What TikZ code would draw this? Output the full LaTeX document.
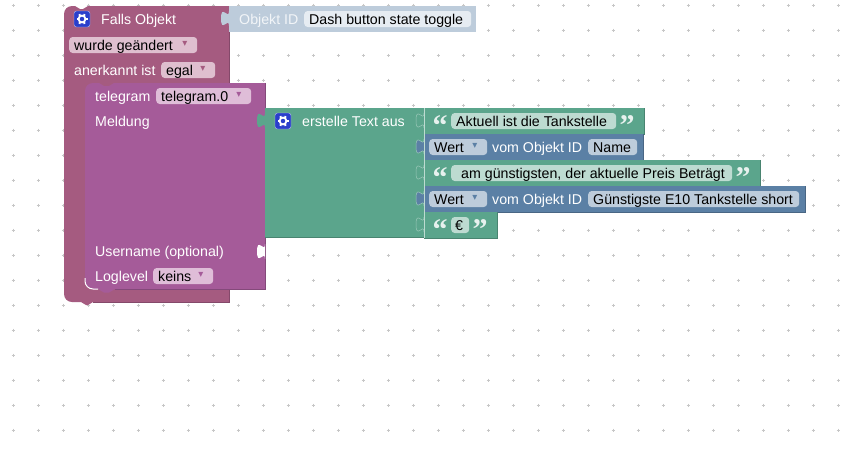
\documentclass[tikz,border=0pt]{standalone}
\usepackage{fontspec}
\setmainfont{Liberation Sans}
\newfontfamily\quotefont{Liberation Serif}
\newfontfamily\arrowfont{DejaVu Sans}
\definecolor{hatblk}{HTML}{A55B80}
\definecolor{hatdark}{HTML}{84496A}
\definecolor{hatfield}{HTML}{DFBFCF}
\definecolor{tgblk}{HTML}{A55B99}
\definecolor{tgdark}{HTML}{84497A}
\definecolor{tgfield}{HTML}{DFBDD8}
\definecolor{txtblk}{HTML}{5BA58C}
\definecolor{txtdark}{HTML}{498470}
\definecolor{txtlit}{HTML}{9CC9BA}
\definecolor{txtfield}{HTML}{BDDBD1}
\definecolor{valblk}{HTML}{5B80A5}
\definecolor{valdark}{HTML}{496684}
\definecolor{valfield}{HTML}{BDCCDB}
\definecolor{shadowfield}{HTML}{E6ECF2}
\definecolor{gearblue}{HTML}{2A3FCB}
\tikzset{
  lbl/.style={inner sep=0pt, anchor=west, text=white, text height=10pt, text depth=0pt, font=\fontsize{14.2}{16}\selectfont},
  fieldbox/.style={rounded corners=3.5pt, minimum height=16pt, inner sep=0pt, anchor=west},
  fieldtxt/.style={inner sep=0pt, anchor=west, text=black, text height=10pt, text depth=0pt, font=\fontsize{14.2}{16}\selectfont},
  ddarrow/.style={inner sep=0pt, font=\arrowfont\fontsize{10}{10}\selectfont},
  quotemark/.style={inner sep=0pt, text=white!85!txtblk, font=\quotefont\bfseries\fontsize{30}{30}\selectfont},
  tabplug/.pic={
    \path[pic actions] (0,0) .. controls (0,10) and (-8,-8) .. (-8,7.5)
      .. controls (-8,23) and (0,5) .. (0,15);
  },
  gearicon/.pic={
    \fill[gearblue, draw=white!70!gearblue, rounded corners=2.5pt] (-8,-8) rectangle (8,8);
    \foreach \a in {0,60,...,300} {
      \draw[white, line width=2pt] (\a:3.5) -- (\a:5.5);
    }
    \draw[white, line width=1.8pt] (0,0) circle (3.4);
  },
}
\begin{document}
\begin{tikzpicture}[x=1pt,y=-1pt]
\useasboundingbox (0,0) rectangle (851,450);
\fill[white] (0,0) rectangle (851,450);
% grid of the workspace
\foreach \x in {13,38,...,838} {
  \foreach \y in {5,30,...,430} {
    \draw[black!22, line width=.6pt] (\x-1.5,\y) -- (\x+1.5,\y) (\x,\y-1.5) -- (\x,\y+1.5);
  }
}
% hat block
\fill[hatblk] (64,14) arc[start angle=180, end angle=270, radius=8]
  -- (75,6) -- (80,9) -- (83,9) -- (88,6) -- (229,6) -- (229,83) -- (120,83) -- (120,92) -- (85,92) -- (85,281)
  arc[start angle=180, end angle=90, radius=8] -- (229,289) -- (229,302)
  -- (93,302) -- (88,305) -- (86,305) -- (81,302) -- (72,302)
  arc[start angle=90, end angle=180, radius=8] -- cycle;
\draw[hatdark, line width=.8pt] (229,6) -- (229,83) (229,289) -- (229,302) -- (93,302);
% telegram block
\fill[tgblk] (85,91) arc[start angle=180, end angle=270, radius=8]
  -- (99,83) -- (104,86) -- (109,86) -- (114,83) -- (265,83) -- (265,289) -- (115,289)
  -- (109,292.5) -- (104,292.5) -- (98,289) -- (93,289)
  arc[start angle=90, end angle=180, radius=8] -- cycle;
\draw[tgdark, line width=.8pt] (265,83) -- (265,289) -- (115,289);
\draw[white, line width=1pt] (85,278) -- (85,281) arc[start angle=180, end angle=90, radius=8] -- (98,289);
\pic[fill=white] at (265,244) {tabplug};
% text block with its values
\fill[txtblk] (265,108) rectangle (424,237);
\draw[txtdark, line width=.8pt] (265,237.5) -- (424,237.5);
\pic[fill=txtblk] at (265,113) {tabplug};
\foreach \y/\xr/\col/\edge [count=\n] in {
    108/644/txtblk/txtdark,
    134/643/valblk/valdark,
    160/760/txtblk/txtdark,
    186/805/valblk/valdark,
    212/497/txtblk/txtdark%
  } {
  \fill[\col] (424,\y) rectangle (\xr,\y+26);
  \draw[\edge, line width=.8pt] (\xr,\y) -- (\xr,\y+26) -- (424,\y+26);
  \pic[fill=\col, draw=txtlit, line width=.5pt] at (424,\y+5) {tabplug};
}
\draw[white!60!txtblk, line width=.8pt] (424,108) -- (424,238);
% object id shadow block
\fill[valfield] (229,6) rectangle (476,32);
\pic[fill=valfield] at (229,11) {tabplug};
% labels on the hat block
\pic at (82,19) {gearicon};
\node[lbl] (hatlabel) at (101,19) {Falls Objekt};
\node[fieldbox, fill=hatfield, minimum width=128pt] (changedbox) at (69,45) {};
\node[fieldtxt] (changedtxt) at (74,45) {wurde geändert};
\node[ddarrow, text=hatblk] (changedarrow) at (185,44) {▾};
\node[lbl] (acklabel) at (74,70) {anerkannt ist};
\node[fieldbox, fill=hatfield, minimum width=54pt] (ackbox) at (161,70) {};
\node[fieldtxt] (acktxt) at (166,70) {egal};
\node[ddarrow, text=hatblk] (ackarrow) at (203,69) {▾};
\node[lbl, text=white!80!valfield] (oidlabel) at (239,19) {Objekt ID};
\node[fieldbox, fill=shadowfield, minimum width=167pt] (oidbox) at (304,19) {};
\node[fieldtxt] (oidtxt) at (309,19) {Dash button state toggle};
% labels on the telegram block
\node[lbl] (tglabel) at (95,96) {telegram};
\node[fieldbox, fill=tgfield, minimum width=95pt] (tgbox) at (156,96) {};
\node[fieldtxt] (tgtxt) at (161,96) {telegram.0};
\node[ddarrow, text=tgblk] (tgarrow) at (239,95) {▾};
\node[lbl] (msglabel) at (95,121) {Meldung};
\node[lbl] (userlabel) at (95,251) {Username (optional)};
\node[lbl] (loglabel) at (95,276) {Loglevel};
\node[fieldbox, fill=tgfield, minimum width=60pt] (logbox) at (153,276) {};
\node[fieldtxt] (logtxt) at (158,276) {keins};
\node[ddarrow, text=tgblk] (logarrow) at (201,275) {▾};
% text block labels
\pic at (283,121) {gearicon};
\node[lbl] (txtlabel) at (302,121) {erstelle Text aus};
% string rows
\foreach \y/\xl/\xw/\xt/\xq/\s [count=\n] in {
    121/451/165/456/627/{Aktuell ist die Tankstelle},
    173/451/281/461/743/{am günstigsten, der aktuelle Preis Beträgt},
    225/451/18/455/480/{€}%
  } {
  \node[quotemark] (open\n) at (440,\y+5) {“};
  \node[fieldbox, fill=txtfield, minimum width=\xw pt] (str\n) at (\xl,\y) {};
  \node[fieldtxt] (strtxt\n) at (\xt,\y) {\s};
  \node[quotemark] (close\n) at (\xq,\y+5) {”};
}
% object value rows
\foreach \y/\xw/\s [count=\n] in {
    147/49/Name,
    199/211/Günstigste E10 Tankstelle short%
  } {
  \node[fieldbox, fill=valfield, minimum width=58pt] (wert\n) at (429,\y) {};
  \node[fieldtxt] (werttxt\n) at (434,\y) {Wert};
  \node[ddarrow, text=valblk] (wertarrow\n) at (475,\y-1) {▾};
  \node[lbl] (vom\n) at (492,\y) {vom Objekt ID};
  \node[fieldbox, fill=valfield, minimum width=\xw pt] (objbox\n) at (588,\y) {};
  \node[fieldtxt] (objtxt\n) at (593,\y) {\s};
}
\end{tikzpicture}
\end{document}
